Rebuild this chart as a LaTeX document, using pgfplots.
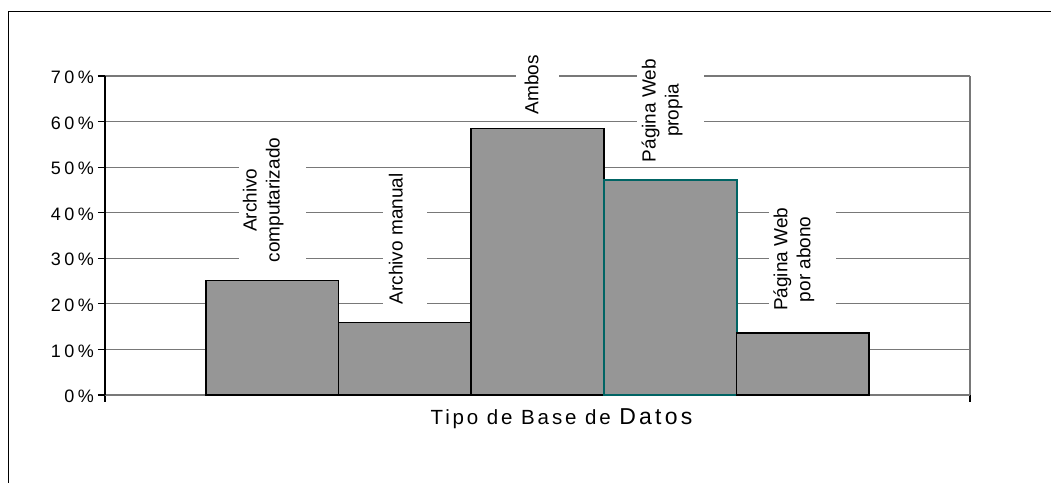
\documentclass[border=0pt]{standalone}
\usepackage{pgfplots}
\pgfplotsset{compat=1.18}
\usepackage{fontspec}
\setmainfont{Liberation Sans}
\newfontfamily\trackfont[LetterSpace=14]{Liberation Sans}
\newcommand\tf{\fontsize{18bp}{20bp}\selectfont}
\newcommand\ks{\kern3.5bp}
\newcommand\tl[1]{\mbox{\tf #1}}
\definecolor{barfill}{RGB}{150,150,150}
\definecolor{tealedge}{RGB}{0,100,100}
\definecolor{gridgray}{RGB}{120,120,120}
\tikzset{
  lbox/.style={rotate=90, anchor=west, fill=white, text=white, inner xsep=3bp,
     font=\fontsize{19bp}{23bp}\selectfont, align=center},
  ltxt/.style={rotate=90, anchor=west, inner sep=0pt,
     font=\fontsize{19bp}{23bp}\selectfont, align=center}
}
\begin{document}
\begin{tikzpicture}
\path[use as bounding box] (0bp,0bp) rectangle (1051bp,483bp);
\draw[line width=1.2bp] (8.5bp,-10bp) -- (8.5bp,471.5bp) -- (1070bp,471.5bp);
\begin{axis}[
  at={(105bp,88bp)}, anchor=south west,
  scale only axis, width=865bp, height=319bp,
  xmin=-0.26, xmax=6.26, ymin=0, ymax=70,
  axis x line*=bottom, axis y line*=left,
  x axis line style={gridgray, line width=1.2bp},
  y axis line style={black, line width=1.2bp},
  ytick={0,10,...,70},
  yticklabels={\tl{0\ks\%},\tl{1\ks0\ks\%},\tl{2\ks0\ks\%},\tl{3\ks0\ks\%},\tl{4\ks0\ks\%},\tl{5\ks0\ks\%},\tl{6\ks0\ks\%},\tl{7\ks0\ks\%}},
  yticklabel style={inner sep=1bp, xshift=-3bp, yshift=-1.5bp},
  xtick={-0.26,6.26}, xticklabels={},
  ymajorgrids, xmajorgrids,
  grid style={gridgray, line width=1.2bp},
  tick align=outside, major tick length=7bp,
  tick style={black, line width=1.2bp},
  xlabel={\trackfont\fontsize{20.5bp}{24bp}\selectfont Tipo de Base de \fontsize{23bp}{24bp}\selectfont Datos},
  xlabel style={at={(axis description cs:0.5,0)}, anchor=base, yshift=-30bp, xshift=24bp},
  clip=false,
]
\addplot[ybar, bar width=1, bar shift=0pt, fill=barfill, draw=black, line width=1.6bp] coordinates {(1,25.1)};
\addplot[ybar, bar width=1, bar shift=0pt, fill=barfill, draw=black, line width=1.6bp] coordinates {(2,15.9)};
\addplot[ybar, bar width=1, bar shift=0pt, fill=barfill, draw=black, line width=1.6bp] coordinates {(3,58.5)};
\addplot[ybar, bar width=1, bar shift=0pt, fill=barfill, draw=tealedge, line width=2bp] coordinates {(4,47.1)};
\addplot[ybar, bar width=1, bar shift=0pt, fill=barfill, draw=black, line width=1.6bp] coordinates {(5,13.6)};

\node[yshift=15bp, lbox, inner ysep=13bp] at (axis cs:1,25.1) {Archivo\\computarizado};
\node[xshift=-9bp, yshift=18bp, ltxt] at (axis cs:1,25.1) {Archivo\\computarizado};
\node[yshift=15bp, lbox, inner ysep=15bp] at (axis cs:2,15.9) {Archivo manual};
\node[xshift=-9bp, yshift=18bp, ltxt] at (axis cs:2,15.9) {Archivo manual};
\node[yshift=11bp, lbox, inner ysep=15bp] at (axis cs:3,58.5) {Ambos};
\node[xshift=-6bp, yshift=14bp, ltxt] at (axis cs:3,58.5) {Ambos};
\node[yshift=15bp, lbox, inner ysep=13bp] at (axis cs:4,47.1) {Página Web\\propia};
\node[xshift=-8bp, yshift=18bp, ltxt] at (axis cs:4,47.1) {Página Web\\propia};
\node[yshift=19bp, lbox, inner ysep=13bp] at (axis cs:5,13.6) {Página Web\\por abono};
\node[xshift=-9bp, yshift=22bp, ltxt] at (axis cs:5,13.6) {Página Web\\por abono};
\end{axis}
\end{tikzpicture}
\end{document}
